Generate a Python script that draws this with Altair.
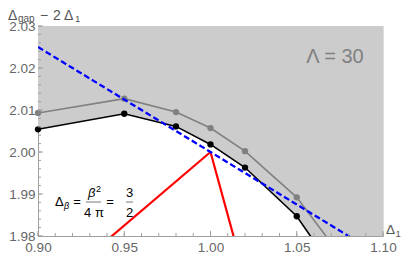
import altair as alt
import pandas as pd

# ---- data ----
delta1 = [0.90, 0.95, 0.98, 1.00, 1.02, 1.05, 1.10]
black_vals = [2.0054, 2.0091, 2.0061, 2.0018, 1.9963, 1.9847, 1.955]
gray_vals = [2.0093, 2.0127, 2.0095, 2.0057, 2.0002, 1.9892, 1.962]
n_points = 6  # points shown for the first six values

blue_x = [0.90, 1.10]
blue_y = [2.025, 1.975]

red_left_x = [0.90, 1.00]
red_left_y = [1.965, 2.00]
red_right_x = [1.00, 1.02]
red_right_y = [2.00, 1.97]

x_major = [0.90, 0.95, 1.00, 1.05, 1.10]
x_minor = [round(0.90 + 0.01 * i, 2) for i in range(21)]
y_major = [1.98, 1.99, 2.00, 2.01, 2.02, 2.03]
y_minor = [round(1.98 + 0.002 * i, 3) for i in range(26)]
y_top = 2.03

W, H = 345, 210
PAD = {"left": 30, "top": 18, "right": 18, "bottom": 16}
FONT = "Liberation Sans"
AXC = "#a0a0a0"
LBC = "#666666"

xs = alt.Scale(domain=[0.90, 1.10], nice=False, zero=False)
ys = alt.Scale(domain=[1.98, 2.03], nice=False, zero=False)

df = pd.DataFrame({"x": delta1, "black": black_vals, "gray": gray_vals,
                   "top": [y_top] * len(delta1)})
pts = df.iloc[:n_points]

area = alt.Chart(df).mark_area(color="#cccccc", clip=True, opacity=1).encode(
    x=alt.X("x:Q", scale=xs,
            axis=alt.Axis(values=x_major, format=".2f", title=None, grid=False,
                          tickSize=0, domainColor=AXC, labelColor=LBC,
                          labelFlush=False, labelOverlap=False,
                          labelFontSize=13.5, labelFont=FONT, labelPadding=4)),
    y=alt.Y("black:Q", scale=ys,
            axis=alt.Axis(values=y_major, format=".2f", title=None, grid=False,
                          tickSize=0, domainColor=AXC, labelColor=LBC,
                          labelFlush=False, labelOverlap=False,
                          labelFontSize=13.5, labelFont=FONT, labelPadding=3)),
    y2=alt.Y2("top:Q"),
)

def line(xv, yv, color, width, dash=None):
    d = pd.DataFrame({"x": xv, "y": yv})
    kw = dict(color=color, strokeWidth=width, clip=True)
    if dash:
        kw["strokeDash"] = dash
    return alt.Chart(d).mark_line(**kw).encode(
        x=alt.X("x:Q", scale=xs), y=alt.Y("y:Q", scale=ys))

red1 = line(red_left_x, red_left_y, "#ff0000", 2.2)
red2 = line(red_right_x, red_right_y, "#ff0000", 2.2)
grayl = alt.Chart(df).mark_line(color="#808080", strokeWidth=1.6, clip=True).encode(
    x=alt.X("x:Q", scale=xs), y=alt.Y("gray:Q", scale=ys))
grayp = alt.Chart(pts).mark_circle(color="#808080", size=40, opacity=1).encode(
    x=alt.X("x:Q", scale=xs), y=alt.Y("gray:Q", scale=ys))
blackl = alt.Chart(df).mark_line(color="#000000", strokeWidth=1.6, clip=True).encode(
    x=alt.X("x:Q", scale=xs), y=alt.Y("black:Q", scale=ys))
blackp = alt.Chart(pts).mark_circle(color="#000000", size=40, opacity=1).encode(
    x=alt.X("x:Q", scale=xs), y=alt.Y("black:Q", scale=ys))
blue = line(blue_x, blue_y, "#0000ff", 2.3, [6, 3])

# inward ticks
def xticks(vals, length):
    d = pd.DataFrame({"x": vals})
    return alt.Chart(d).mark_rule(color=AXC, strokeWidth=1).encode(
        x=alt.X("x:Q", scale=xs), y=alt.value(H), y2=alt.value(H - length))

def yticks(vals, length):
    d = pd.DataFrame({"y": vals})
    return alt.Chart(d).mark_rule(color=AXC, strokeWidth=1).encode(
        y=alt.Y("y:Q", scale=ys), x=alt.value(0), x2=alt.value(length))

one = pd.DataFrame({"a": [0]})

def txt(s, x, y, size=13, color="#000000", align="left", style="normal", baseline="alphabetic"):
    return alt.Chart(one).mark_text(text=s, font=FONT, fontSize=size, color=color,
                                    align=align, baseline=baseline, fontStyle=style).encode(
        x=alt.value(x), y=alt.value(y))

def bar(x1, x2, y):
    return alt.Chart(one).mark_rule(color="#555555", strokeWidth=0.8).encode(
        x=alt.value(x1), x2=alt.value(x2), y=alt.value(y))

TC = "#555555"
texts = [
    # y axis label
    txt("Δ", -30, -6.5, 14, TC),
    txt("gap", -20, -4.5, 10, TC),
    txt("−", 2, -6.5, 14, TC),
    txt("2", 15, -6.5, 14, TC),
    txt("Δ", 26, -6.5, 14, TC),
    txt("1", 37, -4.5, 9.5, TC),
    # x axis label
    txt("Δ", 348, 208, 13.5, TC),
    txt("1", 357.5, 211, 9.5, TC),
    # Lambda
    txt("Λ = 30", 297, 31, 20, "#808080", align="center", baseline="middle"),
    # formula
    txt("Δ", 17, 180, 13),
    txt("β", 26, 183, 9, style="italic"),
    txt("=", 39, 180, 13, align="center"),
    txt("β", 50, 171, 13, style="italic"),
    txt("2", 58, 166, 9),
    bar(48, 63, 176),
    txt("4 π", 56, 191, 13, align="center"),
    txt("=", 72, 180, 13, align="center"),
    txt("3", 91.5, 171, 13, align="center"),
    bar(88, 95, 176),
    txt("2", 91.5, 191, 13, align="center"),
]

chart = alt.layer(
    area, red1, red2, grayl, grayp, blackl, blackp, blue,
    xticks(x_minor, 3), xticks(x_major, 5), yticks(y_minor, 3), yticks(y_major, 5),
    *texts
).properties(
    width=W, height=H,
    padding=PAD,
    autosize=alt.AutoSizeParams(type="none"),
).configure_view(stroke=None).configure(background="white")

chart.save("out.html", embed_options={"renderer": "svg", "actions": False})
